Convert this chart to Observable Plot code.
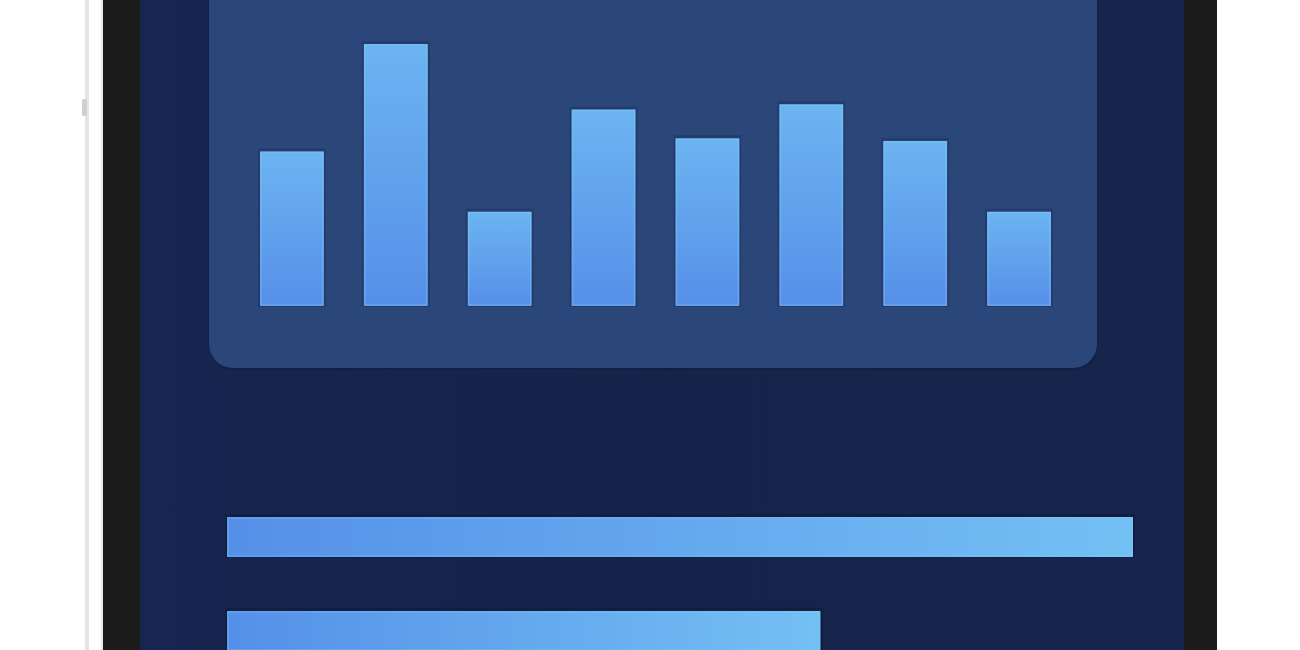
<!DOCTYPE html>
<html>
<head>
<meta charset="utf-8">
<script src="https://cdn.jsdelivr.net/npm/d3@7"></script>
<script src="https://cdn.jsdelivr.net/npm/@observablehq/plot@0.6"></script>
<style>
  html, body { margin: 0; padding: 0; }
  body { width: 1300px; height: 650px; background: #ffffff; position: relative; overflow: hidden; font-family: "Noto Sans", sans-serif; }
  .abs { position: absolute; }
  #edge { left: 85px; top: 0; width: 4px; height: 650px; background: #e4e4e4; }
  #button { left: 82px; top: 99px; width: 5px; height: 17px; background: #cfcfcf; border-radius: 2px; }
  #inner-edge { left: 101px; top: 0; width: 2px; height: 650px; background: #e9e9e9; }
  #bezel { left: 103px; top: 0; width: 1114px; height: 650px; background: #1b1b1b; }
  #screen { left: 140px; top: 0; width: 1044px; height: 650px; background: linear-gradient(90deg, #162650 0%, #16234a 50%, #17244b 100%); }
  #panel { left: 209px; top: -40px; width: 888px; height: 408px; border-radius: 24px; background: #2b477a; box-shadow: 0 1px 2px rgba(10,20,50,0.5); }
  #cols { left: 209px; top: 0; }
  #rows { left: 0; top: 0; }
</style>
</head>
<body>
<div id="edge" class="abs"></div>
<div id="button" class="abs"></div>
<div id="inner-edge" class="abs"></div>
<div id="bezel" class="abs"></div>
<div id="screen" class="abs"></div>
<div id="panel" class="abs"></div>
<div id="cols" class="abs"></div>
<div id="rows" class="abs"></div>
<script>
// column chart in the upper panel
const columns = ["1", "2", "3", "4", "5", "6", "7", "8"];
const columnValues = [59, 100, 36, 75, 64, 77, 63, 36];

// progress bars below it
const rows = ["a", "b"];
const rowValues = [100, 65.5];

const colData = columns.map((c, i) => ({cat: c, value: columnValues[i]}));
const rowData = rows.map((r, i) => ({cat: r, value: rowValues[i]}));

function addGradient(svg, id, x2, y2, from, to) {
  let defs = d3.select(svg).insert("defs", ":first-child");
  let g = defs.append("linearGradient")
    .attr("id", id)
    .attr("x1", 0).attr("y1", 0)
    .attr("x2", x2).attr("y2", y2);
  g.append("stop").attr("offset", "0%").attr("stop-color", from);
  g.append("stop").attr("offset", "100%").attr("stop-color", to);
}

let colChart = Plot.plot({
  width: 888,
  height: 368,
  marginTop: 44,
  marginBottom: 62,
  marginLeft: 51,
  marginRight: 46,
  style: { background: "transparent" },
  x: { domain: columns, paddingInner: 0.385, paddingOuter: 0, round: false, axis: null },
  y: { domain: [0, 100], axis: null },
  marks: [
    // soft dark halo round each column
    Plot.barY(colData, {
      x: "cat", y: "value",
      fill: "#1d3262", fillOpacity: 0.55,
      insetLeft: -2, insetRight: -2, insetTop: -3, insetBottom: -1
    }),
    Plot.barY(colData, {
      x: "cat", y: "value",
      fill: "url(#colGrad)"
    }),
    Plot.barY(colData, {
      x: "cat", y: "value",
      fill: "none", stroke: "#8acbf7", strokeOpacity: 0.35, strokeWidth: 1.5,
      insetLeft: 1, insetRight: 1, insetTop: 1, insetBottom: 1
    })
  ]
});
addGradient(colChart, "colGrad", 0, 1, "#6cb4f1", "#568fe8");
document.querySelector("#cols").append(colChart);

let rowChart = Plot.plot({
  width: 1300,
  height: 650,
  marginTop: 0,
  marginBottom: 0,
  marginLeft: 0,
  marginRight: 0,
  style: { background: "transparent", overflow: "hidden" },
  x: { domain: [0, 100], range: [227, 1133], axis: null },
  y: { domain: rows, range: [517, 651], paddingInner: 0.574, paddingOuter: 0, round: false, axis: null },
  marks: [
    Plot.barX(rowData, {
      x: "value", y: "cat",
      fill: "#0f1a3a", fillOpacity: 0.6,
      insetLeft: -2, insetRight: -2, insetTop: -3, insetBottom: -1
    }),
    Plot.barX(rowData, {
      x: "value", y: "cat",
      fill: "url(#rowGrad)"
    }),
    Plot.barX(rowData, {
      x: "value", y: "cat",
      fill: "none", stroke: "#8acbf7", strokeOpacity: 0.3, strokeWidth: 1.5,
      insetLeft: 1, insetRight: 1, insetTop: 1, insetBottom: 1
    })
  ]
});
addGradient(rowChart, "rowGrad", 1, 0, "#5590e8", "#73c0f4");
document.querySelector("#rows").append(rowChart);
</script>
</body>
</html>
